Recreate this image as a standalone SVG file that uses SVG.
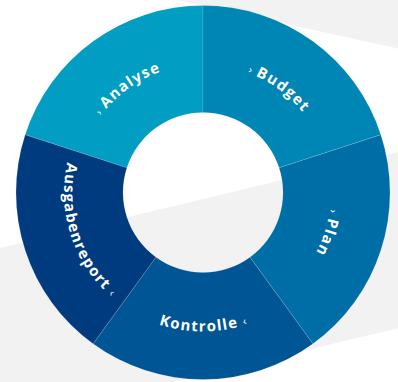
<svg xmlns="http://www.w3.org/2000/svg" xmlns:xlink="http://www.w3.org/1999/xlink" width="398" height="382" viewBox="0 0 398 382">
  <style>
    .bg { fill: #f2f2f2; }
    .seg { stroke: #ffffff; stroke-opacity: 0.22; stroke-width: 0.6; }
    .lbl { font-family: "Open Sans", "Liberation Sans", sans-serif; font-weight: 700; font-size: 15px; letter-spacing: 1.3px; fill: #ffffff; }
    .chev { font-size: 11px; font-weight: 400; letter-spacing: 0; }
  </style>
  <defs>
    <path id="arcTop" d="M -128 0 A 128 128 0 0 1 128 0"/>
    <path id="arcBot" d="M -139 0 A 139 139 0 0 0 139 0"/>
  </defs>
  <rect width="398" height="382" fill="#ffffff"/>
  <g id="background">
    <polygon class="bg" points="178,0 398,48.4 398,0"/>
    <polygon class="bg" points="0,248 398,152 398,328.3 0,423.4"/>
  </g>
  <g id="analyse">
    <path class="seg" fill="#029dc3" d="M 25.152 134.714 A 187 187 0 0 1 203 5.5 L 203 112.5 A 80 80 0 0 0 126.915 167.779 Z"/>
    <g transform="translate(203 192.5) rotate(-36)">
      <text class="lbl" text-anchor="middle"><textPath href="#arcTop" xlink:href="#arcTop" startOffset="50%"><tspan class="chev">›</tspan> Analyse</textPath></text>
    </g>
  </g>
  <g id="budget">
    <path class="seg" fill="#0086b5" d="M 203 5.5 A 187 187 0 0 1 380.848 134.714 L 279.085 167.779 A 80 80 0 0 0 203 112.5 Z"/>
    <g transform="translate(203 192.5) rotate(36)">
      <text class="lbl" text-anchor="middle"><textPath href="#arcTop" xlink:href="#arcTop" startOffset="50%"><tspan class="chev">›</tspan> Budget</textPath></text>
    </g>
  </g>
  <g id="plan">
    <path class="seg" fill="#006ea6" d="M 380.848 134.714 A 187 187 0 0 1 312.916 343.786 L 250.023 257.221 A 80 80 0 0 0 279.085 167.779 Z"/>
    <g transform="translate(203 192.5) rotate(108)">
      <text class="lbl" text-anchor="middle"><textPath href="#arcTop" xlink:href="#arcTop" startOffset="50%"><tspan class="chev">›</tspan> Plan</textPath></text>
    </g>
  </g>
  <g id="kontrolle">
    <path class="seg" fill="#005595" d="M 312.916 343.786 A 187 187 0 0 1 93.084 343.786 L 155.977 257.221 A 80 80 0 0 0 250.023 257.221 Z"/>
    <g transform="translate(203 192.5)">
      <text class="lbl" text-anchor="middle"><textPath href="#arcBot" xlink:href="#arcBot" startOffset="50%">Kontrolle <tspan class="chev">‹</tspan></textPath></text>
    </g>
  </g>
  <g id="ausgabenreport">
    <path class="seg" fill="#003b7f" d="M 93.084 343.786 A 187 187 0 0 1 25.152 134.714 L 126.915 167.779 A 80 80 0 0 0 155.977 257.221 Z"/>
    <g transform="translate(203 192.5) rotate(72)">
      <text class="lbl" text-anchor="middle"><textPath href="#arcBot" xlink:href="#arcBot" startOffset="50%">Ausgabenreport <tspan class="chev">‹</tspan></textPath></text>
    </g>
  </g>
  <g id="connectors"/>
</svg>
